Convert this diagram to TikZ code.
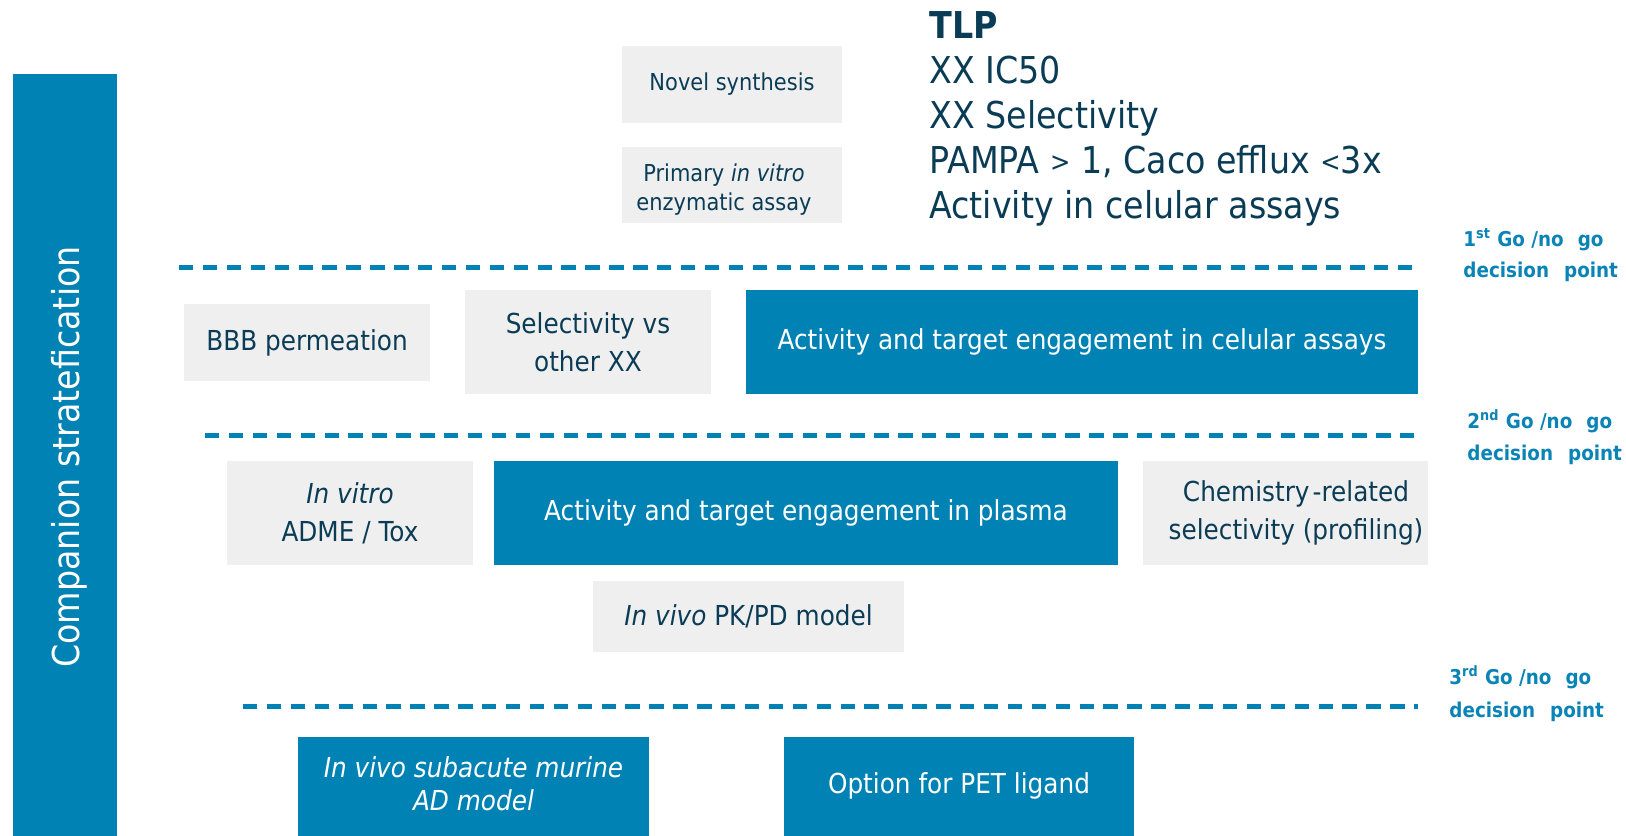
\documentclass[tikz,border=0pt]{standalone}
\usepackage{fontspec}
\setmainfont{DejaVu Sans}[FakeStretch=0.9]
\definecolor{tealblue}{HTML}{0082B4}
\definecolor{boxgrey}{HTML}{EFEFEF}
\definecolor{darktext}{HTML}{0B3C55}
\definecolor{lblblue}{HTML}{0A84B6}
\begin{document}
\begin{tikzpicture}[x=0.5pt,y=-0.5pt,
  greybox/.style={fill=boxgrey, text=darktext, inner sep=0pt, align=center,
    font=\fontsize{13.75}{19}\selectfont},
  bluebox/.style={fill=tealblue, text=white, inner sep=0pt, align=center,
    font=\fontsize{13.75}{19}\selectfont},
  smallgrey/.style={greybox, font=\fontsize{11.65}{14.5}\selectfont},
  boxtext/.style={inner sep=0pt, align=center, font=\fontsize{13.75}{19}\selectfont},
  dashline/.style={draw=tealblue, line width=2.5pt, dash pattern=on 7.2pt off 4.75pt},
  tlpline/.style={text=darktext, anchor=base west, inner sep=0pt,
    font=\fontsize{18.5}{22}\selectfont},
  golabel/.style={text=lblblue, anchor=base west, inner sep=0pt,
    font=\bfseries\fontsize{10.2}{12}\selectfont}]
\useasboundingbox (0,0) rectangle (1626,835);

% left bar
\node[fill=tealblue, inner sep=0pt, minimum width=52pt, minimum height=385pt, anchor=north west] (bar) at (13,74) {};
\node[text=white, rotate=90, anchor=base, inner sep=0pt, font=\fontsize{18.5}{20}\selectfont] (bartext) at (79,457) {Companion stratefication};

% top stage
\node[smallgrey, minimum width=110pt, minimum height=38.5pt] (novel) at (732,84.5) {Novel synthesis};
\node[fill=boxgrey, inner sep=0pt, minimum width=110pt, minimum height=38pt] (primary) at (732,185) {};
\node[text=darktext, inner sep=0pt, align=center, font=\fontsize{11.65}{14.5}\selectfont] (primarytext) at (724,190) {Primary \textit{in vitro}\\enzymatic assay};

\node[tlpline, font=\bfseries\fontsize{18.5}{22}\selectfont] (tlp1) at (929,38) {TLP};
\node[tlpline] (tlp2) at (929,83) {XX IC50};
\node[tlpline] (tlp3) at (929,128) {XX Selectivity};
\node[tlpline] (tlp4) at (929,173) {PAMPA \raisebox{1pt}{\fontsize{13.5}{14}\selectfont >} 1, Caco efflux \raisebox{1pt}{\fontsize{13.5}{14}\selectfont <}3x};
\node[tlpline] (tlp5) at (929,218) {Activity in celular assays};

% dashed decision lines
\coordinate (d1s) at (179,267);  \coordinate (d1e) at (1413,267);
\coordinate (d2s) at (205,435);  \coordinate (d2e) at (1415,435);
\coordinate (d3s) at (243,706);  \coordinate (d3e) at (1418,706);
\draw[dashline] (d1s) -- (d1e);
\draw[dashline] (d2s) -- (d2e);
\draw[dashline] (d3s) -- (d3e);

% labels
\node[golabel] (g1a) at (1463,246) {1\textsuperscript{st} Go /no\hspace{7pt}go};
\node[golabel] (g1b) at (1463,277) {decision\hspace{7.5pt}point};
\node[golabel] (g2a) at (1467,428) {2\textsuperscript{nd} Go /no\hspace{7pt}go};
\node[golabel] (g2b) at (1467,460) {decision\hspace{7.5pt}point};
\node[golabel] (g3a) at (1449,684) {3\textsuperscript{rd} Go /no\hspace{7pt}go};
\node[golabel] (g3b) at (1449,717) {decision\hspace{7.5pt}point};

% second stage
\node[greybox, minimum width=123pt, minimum height=38.5pt] (bbb) at (307,342.5) {BBB permeation};
\node[greybox, minimum width=123pt, minimum height=52pt] (sel) at (588,342) {Selectivity vs\\other XX};
\node[bluebox, minimum width=336pt, minimum height=52pt] (cell) at (1082,342) {Activity and target engagement in celular assays};

% third stage
\node[greybox, minimum width=123pt, minimum height=52pt] (invitro) at (350,513) {\textit{In vitro}\\ADME / Tox};
\node[bluebox, minimum width=312pt, minimum height=52pt] (plasma) at (806,513) {Activity and target engagement in plasma};
\node[fill=boxgrey, inner sep=0pt, minimum width=142.5pt, minimum height=52pt] (chem) at (1285.5,513) {};
\node[boxtext, text=darktext] (chemtext) at (1296,513) {Chemistry\kern1.5pt-related\\selectivity (profiling)};
\node[greybox, minimum width=155.5pt, minimum height=35.5pt] (pkpd) at (748.5,616.5) {\textit{In vivo} PK/PD model};

% fourth stage
\node[fill=tealblue, inner sep=0pt, minimum width=175.5pt, minimum height=53pt] (murine) at (473.5,790) {};
\node[boxtext, text=white, font=\itshape\fontsize{13.75}{16.5}\selectfont] (murinetext) at (473.5,784) {In vivo subacute murine\\AD model};
\node[fill=tealblue, inner sep=0pt, minimum width=175pt, minimum height=53pt] (pet) at (959,790) {};
\node[boxtext, text=white] (pettext) at (959,786) {Option for PET ligand};
\end{tikzpicture}
\end{document}
